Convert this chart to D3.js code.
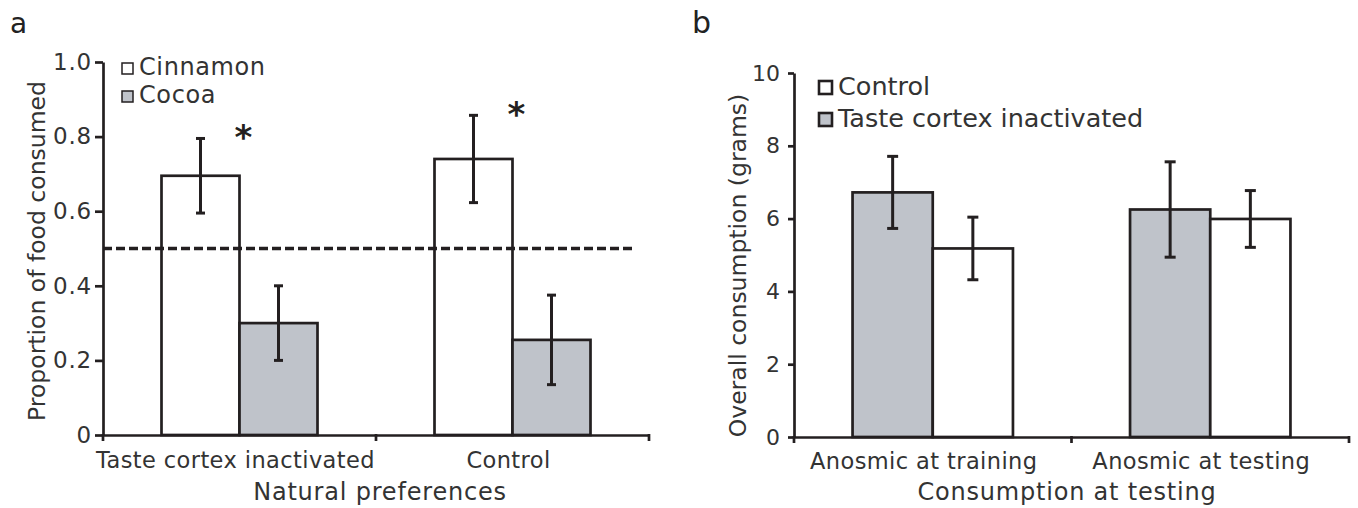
<!DOCTYPE html>
<html>
<head>
<meta charset="utf-8">
<script src="https://cdn.jsdelivr.net/npm/d3@7"></script>
<style>
  body { margin: 0; background: #fff; }
  svg { display: block; font-family: "DejaVu Sans", Verdana, sans-serif; }
</style>
</head>
<body>
<svg id="chart" width="1358" height="508"></svg>
<script>
// panel a: natural preferences
const prefCategories = ['Taste cortex inactivated', 'Control'];
const prefSeries = ['Cinnamon', 'Cocoa'];
const prefMeans = [[0.695, 0.30], [0.74, 0.255]];
const prefErrors = [[0.10, 0.10], [0.117, 0.12]];
const prefSignificant = [true, true];
const prefTicks = [0, 0.2, 0.4, 0.6, 0.8, 1.0];
const chanceLevel = 0.5;

// panel b: consumption at testing
const testCategories = ['Anosmic at training', 'Anosmic at testing'];
const testSeries = ['Taste cortex inactivated', 'Control'];
const testMeans = [[6.72, 5.18], [6.25, 5.99]];
const testErrors = [[0.99, 0.86], [1.31, 0.78]];
const testTicks = [0, 2, 4, 6, 8, 10];
const testLegend = ['Control', 'Taste cortex inactivated'];

const INK = '#231f20';
const TEXT = '#333';
const GREY = '#bfc3ca';
const fillOf = { Cinnamon: '#fff', Cocoa: GREY, Control: '#fff', 'Taste cortex inactivated': GREY };

const svg = d3.select('#chart');

function drawPanel(cfg) {
  const g = svg.append('g');
  const x = d3.scaleBand().domain(cfg.categories).range(cfg.xRange);
  const xs = d3.scaleBand().domain(cfg.series).range([0, x.bandwidth()]).paddingOuter(cfg.outer);
  const y = d3.scaleLinear().domain([0, cfg.yMax]).range(cfg.yRange);

  const rows = cfg.categories.flatMap((c, i) =>
    cfg.series.map((s, j) => ({ c, s, v: cfg.means[i][j], e: cfg.errors[i][j] })));

  // bars
  g.append('g').selectAll('rect')
    .data(rows)
    .join('rect')
    .attr('x', d => x(d.c) + xs(d.s))
    .attr('y', d => y(d.v))
    .attr('width', xs.bandwidth())
    .attr('height', d => y(0) - y(d.v))
    .attr('fill', d => fillOf[d.s])
    .attr('stroke', INK)
    .attr('stroke-width', 2.7);

  // error bars
  const eb = g.append('g').attr('stroke', INK).attr('stroke-width', 3)
    .selectAll('g').data(rows).join('g')
    .attr('transform', d => `translate(${x(d.c) + xs(d.s) + xs.bandwidth() / 2},0)`);
  eb.append('line').attr('y1', d => y(d.v - d.e)).attr('y2', d => y(d.v + d.e));
  eb.append('line').attr('x1', -cfg.cap / 2).attr('x2', cfg.cap / 2)
    .attr('y1', d => y(d.v + d.e)).attr('y2', d => y(d.v + d.e));
  eb.append('line').attr('x1', -cfg.cap / 2).attr('x2', cfg.cap / 2)
    .attr('y1', d => y(d.v - d.e)).attr('y2', d => y(d.v - d.e));

  // y axis
  const ya = g.append('g')
    .attr('transform', `translate(${cfg.xRange[0]},0)`)
    .call(d3.axisLeft(y).tickValues(cfg.ticks).tickFormat(cfg.fmt)
      .tickSize(cfg.tickLen).tickPadding(cfg.tickPad).tickSizeOuter(0));
  ya.selectAll('path, line').attr('stroke', INK).attr('stroke-width', 2.7);
  ya.selectAll('text').attr('fill', TEXT)
    .style('font-size', cfg.tickFont + 'px').style('font-family', 'DejaVu Sans')
    .style('letter-spacing', cfg.tickSpacing + 'px');

  // x axis
  const xa = g.append('g')
    .attr('transform', `translate(0,${y(0)})`)
    .call(d3.axisBottom(x).tickSize(0).tickPadding(cfg.catPad).tickSizeOuter(0));
  xa.select('.domain').attr('stroke', INK).attr('stroke-width', 2.7);
  xa.selectAll('text').attr('fill', TEXT)
    .attr('dx', cfg.catShift)
    .style('font-size', '22.5px').style('font-family', 'DejaVu Sans')
    .style('letter-spacing', '0.4px');
  xa.selectAll('line.edge')
    .data([...x.domain().map(c => x(c)), x.range()[1]])
    .join('line')
    .attr('class', 'edge')
    .attr('x1', d => d).attr('x2', d => d)
    .attr('y1', -1).attr('y2', 6)
    .attr('stroke', INK).attr('stroke-width', 2.7);

  // axis titles
  g.append('text')
    .attr('transform', `translate(${cfg.yTitleX},${(cfg.yTitleTop + y(0)) / 2}) rotate(-90)`)
    .attr('text-anchor', 'middle')
    .attr('fill', TEXT)
    .style('font-size', '23.5px')
    .text(cfg.yTitle);
  g.append('text')
    .attr('x', cfg.xTitleX)
    .attr('y', 500)
    .attr('text-anchor', 'middle')
    .attr('fill', TEXT)
    .style('font-size', '24px')
    .style('letter-spacing', '0.8px')
    .text(cfg.xTitle);

  // panel letter
  g.append('text')
    .attr('x', cfg.letterX).attr('y', 33)
    .attr('fill', '#222')
    .style('font-size', cfg.letterFont + 'px')
    .text(cfg.letter);

  // legend
  const lg = g.append('g').selectAll('g')
    .data(cfg.legend).join('g')
    .attr('transform', (d, i) => `translate(${cfg.legendX},${cfg.legendY + i * cfg.legendStep})`);
  lg.append('rect')
    .attr('x', 0).attr('y', -cfg.box - 1)
    .attr('width', cfg.box).attr('height', cfg.box)
    .attr('fill', d => fillOf[d])
    .attr('stroke', INK)
    .attr('stroke-width', cfg.boxStroke);
  lg.append('text')
    .attr('x', cfg.box + 6)
    .attr('y', 0)
    .attr('fill', TEXT)
    .style('font-size', cfg.legendFont + 'px')
    .style('letter-spacing', cfg.legendSpacing + 'px')
    .text(d => d);

  return { g, x, xs, y };
}

// panel a
const a = drawPanel({
  categories: prefCategories, series: prefSeries, means: prefMeans, errors: prefErrors,
  xRange: [103, 649], yRange: [435, 62], yMax: 1.0, outer: 0.75, cap: 9,
  ticks: prefTicks, fmt: d => d === 0 ? '0' : d.toFixed(1),
  tickLen: 8, tickPad: 3, tickFont: 23, tickSpacing: 0.8, catPad: 17, catShift: -4,
  yTitle: 'Proportion of food consumed', yTitleX: 45, yTitleTop: 67,
  xTitle: 'Natural preferences', xTitleX: 380,
  letter: 'a', letterX: 10, letterFont: 28,
  legend: prefSeries, legendX: 122, legendY: 75, legendStep: 28,
  box: 11, boxStroke: 1.5, legendFont: 24, legendSpacing: 0.6
});

// dashed chance line
a.g.append('line')
  .attr('x1', a.x.range()[0]).attr('x2', a.x.range()[1] - 17)
  .attr('y1', a.y(chanceLevel)).attr('y2', a.y(chanceLevel))
  .attr('stroke', INK).attr('stroke-width', 3.5)
  .attr('stroke-dasharray', '9,4');

// significance asterisks
a.g.append('g').selectAll('text')
  .data(prefCategories.filter((c, i) => prefSignificant[i]))
  .join('text')
  .attr('x', c => a.x(c) + a.x.bandwidth() / 2 + 4)
  .attr('y', c => {
    const i = prefCategories.indexOf(c);
    return a.y(prefMeans[i][0] + prefErrors[i][0]) + 11;
  })
  .attr('text-anchor', 'middle')
  .attr('fill', INK)
  .style('font-size', '34px')
  .style('font-weight', 'bold')
  .text('*');

// panel b
drawPanel({
  categories: testCategories, series: testSeries, means: testMeans, errors: testErrors,
  xRange: [794, 1349], yRange: [437, 73], yMax: 10, outer: 0.73, cap: 11,
  ticks: testTicks, fmt: d3.format('d'),
  tickLen: 6, tickPad: 8, tickFont: 22, tickSpacing: 0, catPad: 16, catShift: -9,
  yTitle: 'Overall consumption (grams)', yTitleX: 746, yTitleTop: 94,
  xTitle: 'Consumption at testing', xTitleX: 1067,
  letter: 'b', letterX: 692, letterFont: 30,
  legend: testLegend, legendX: 819, legendY: 95, legendStep: 32,
  box: 13, boxStroke: 2.6, legendFont: 25.5, legendSpacing: 0
});
</script>
</body>
</html>
